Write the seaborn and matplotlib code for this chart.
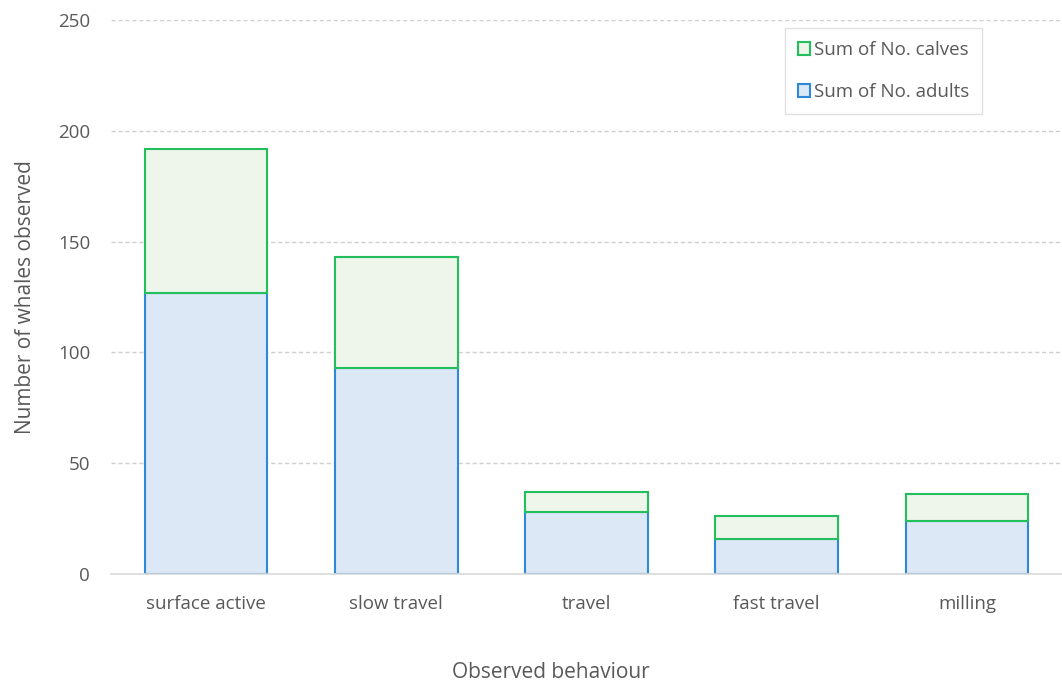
import matplotlib
matplotlib.use('Agg')
import matplotlib.pyplot as plt
from matplotlib.patches import Patch
import seaborn as sns
import pandas as pd

behaviours = ['surface active', 'slow travel', 'travel', 'fast travel', 'milling']
adults = [127, 93, 28, 16, 24]
calves = [65, 50, 9, 10, 12]
y_ticks = [0, 50, 100, 150, 200, 250]

ADULT_FILL = '#DCE8F5'
ADULT_EDGE = '#2E8AD8'
CALF_FILL = '#EEF5EA'
CALF_EDGE = '#22C05C'
TEXT = '#595959'

sns.set_style('white')
plt.rcParams['font.family'] = ['Open Sans', 'DejaVu Sans']

df = pd.DataFrame({'behaviour': behaviours, 'adults': adults, 'calves': calves})

fig = plt.figure(figsize=(10.62, 6.83), dpi=100)
ax = fig.add_axes([111 / 1062, 109 / 683, 951 / 1062, 554 / 683])

sns.barplot(data=df, x='behaviour', y='adults', color=ADULT_FILL, width=0.645,
            edgecolor=ADULT_EDGE, linewidth=1.5, saturation=1, ax=ax, zorder=2)
n = len(ax.patches)
sns.barplot(data=df, x='behaviour', y='calves', color=CALF_FILL, width=0.645,
            edgecolor=CALF_EDGE, linewidth=1.5, saturation=1, ax=ax, zorder=3)
# stack calves on top of adults
for patch, base in zip(ax.patches[n:], df['adults']):
    patch.set_y(base)

ax.set_ylim(0, 250)
ax.set_xlim(-0.5, 4.5)
ax.set_yticks(y_ticks)
for t in y_ticks[1:]:
    ax.axhline(t, color='#CFCFCF', linewidth=1, linestyle=(0, (3, 2)), zorder=0)

for side in ['top', 'right', 'left']:
    ax.spines[side].set_visible(False)
ax.spines['bottom'].set_color('#D9D9D9')
ax.spines['bottom'].set_linewidth(1.2)
ax.spines['bottom'].set_zorder(4)

ax.tick_params(axis='both', length=0, labelsize=13.5, labelcolor=TEXT)
ax.tick_params(axis='y', pad=15)
ax.tick_params(axis='x', pad=15)

ax.set_xlabel('Observed behaviour', fontsize=15, color=TEXT)
ax.xaxis.set_label_coords(0.4627, -0.158)
ax.set_ylabel('Number of whales observed', fontsize=15, color=TEXT, labelpad=16)

handles = [Patch(facecolor=CALF_FILL, edgecolor=CALF_EDGE, linewidth=1.5),
           Patch(facecolor=ADULT_FILL, edgecolor=ADULT_EDGE, linewidth=1.5)]
leg = ax.legend(handles, ['Sum of No. calves', 'Sum of No. adults'],
                loc='upper right', bbox_to_anchor=(0.916, 0.986), borderaxespad=0,
                fontsize=13.5, frameon=True, fancybox=False, handlelength=0.65,
                handleheight=0.65, handletextpad=0.2, labelspacing=1.3,
                borderpad=0.7)
leg.get_frame().set_edgecolor('#D9D9D9')
leg.get_frame().set_linewidth(1)
for txt in leg.get_texts():
    txt.set_color(TEXT)

fig.savefig('out.png', dpi=100)
